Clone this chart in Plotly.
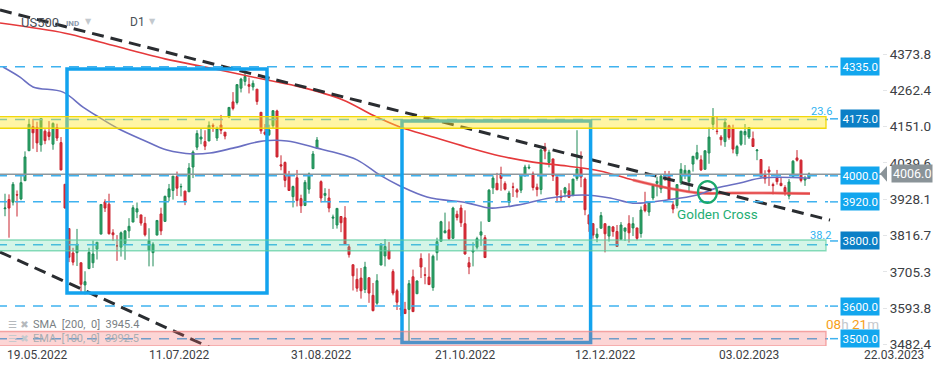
import plotly.graph_objects as go

# ---------------- DATA (US500 daily, 19.05.2022 - 09.03.2023) ----------------
opens = [
    3899, 3927, 3919, 3942, 3929, 3985, 4077, 4151,  # May
    4149, 4095, 4137, 4134, 4097, 4148, 4102, 3974, 3838, 3763, 3764, 3733, 3665,
    3715, 3733, 3775, 3821, 3920, 3913, 3825, 3785,  # Jun
    3781, 3792, 3831, 3858, 3889, 3880, 3854, 3771, 3764, 3818, 3883, 3860, 3935,
    3955, 3998, 3966, 3953, 3951, 4027, 4088,  # Jul
    4113, 4105, 4107, 4155, 4116, 4156, 4134, 4181, 4227, 4225, 4269, 4290, 4280,
    4273, 4266, 4195, 4134, 4126, 4154, 4199, 4034, 4041, 4000,  # Aug
    3936, 3994, 3930, 3909, 3959, 4022, 4084, 3982, 3940, 3932, 3870, 3849, 3875,
    3871, 3782, 3727, 3682, 3686, 3651, 3687, 3633,  # Sep
    3609, 3726, 3754, 3771, 3706, 3647, 3594, 3590, 3590, 3690, 3638, 3746, 3696,
    3689, 3657, 3764, 3799, 3825, 3834, 3808, 3882,  # Oct
    3901, 3853, 3733, 3766, 3781, 3818, 3810, 3860, 3963, 3977, 4007, 3976, 3919,
    3966, 3957, 3956, 4000, 4024, 4006, 3965, 3958,  # Nov
    4087, 4041, 4052, 3996, 3937, 3947, 3954, 3940, 3992, 4022, 3990, 3880, 3853,
    3811, 3839, 3853, 3815, 3843, 3829, 3805, 3830,  # Dec
    3853, 3840, 3840, 3823, 3911, 3889, 3932, 3977, 3960, 3999, 4003, 3911, 3909,
    3979, 4001, 3982, 4036, 4053, 4049, 4020,  # Jan
    4070, 4158, 4137, 4119, 4105, 4154, 4144, 4068, 4097, 4126, 4119, 4114, 4077,
    4050, 4002, 4018, 3973, 3993, 3977,  # Feb
    3964, 3938, 3998, 4055, 4048, 3987, 3992,  # Mar
]
highs = [
    3945, 3943, 3981, 3955, 3999, 4075, 4175, 4175,
    4166, 4177, 4143, 4168, 4164, 4160, 4119, 3974, 3838, 3779, 3837, 3733, 3707,
    3779, 3801, 3796, 3913, 3928, 3945, 3836, 3818,
    3829, 3832, 3870, 3910, 3918, 3880, 3874, 3839, 3796, 3863, 3902, 3939, 3975,
    3999, 4013, 3976, 3954, 4039, 4078, 4140,
    4144, 4140, 4167, 4161, 4151, 4187, 4134, 4211, 4257, 4280, 4301, 4325, 4302,
    4293, 4266, 4195, 4159, 4157, 4200, 4203, 4063, 4044, 4015,
    3970, 4018, 3942, 3987, 4010, 4076, 4119, 3986, 3962, 3960, 3881, 3900, 3876,
    3907, 3790, 3727, 3716, 3717, 3736, 3688, 3671,
    3698, 3791, 3806, 3797, 3713, 3653, 3640, 3613, 3680, 3712, 3679, 3762, 3719,
    3762, 3758, 3810, 3862, 3887, 3860, 3905, 3893,
    3911, 3894, 3751, 3796, 3813, 3860, 3818, 3959, 4001, 4009, 4028, 3983, 3954,
    3979, 3962, 4004, 4034, 4035, 4013, 3976, 4080,
    4101, 4080, 4052, 4001, 3956, 3966, 3977, 3990, 4140, 4075, 3995, 3880, 3855,
    3839, 3889, 3853, 3845, 3846, 3849, 3858, 3839,
    3879, 3873, 3840, 3906, 3951, 3920, 3970, 3997, 4003, 4015, 4015, 3923, 3973,
    4039, 4033, 4019, 4060, 4095, 4063, 4077,
    4148, 4208, 4183, 4125, 4176, 4157, 4157, 4095, 4138, 4159, 4148, 4136, 4082,
    4050, 4017, 4029, 3979, 4018, 3997,
    3971, 3990, 4048, 4079, 4050, 4000, 4010,
]
lows = [
    3876, 3810, 3909, 3875, 3925, 3984, 4077, 4083,
    4073, 4074, 4097, 4109, 4080, 4107, 4017, 3900, 3735, 3725, 3723, 3639, 3636,
    3715, 3717, 3743, 3821, 3889, 3820, 3800, 3739,
    3752, 3742, 3809, 3858, 3870, 3847, 3814, 3722, 3722, 3818, 3818, 3860, 3922,
    3927, 3938, 3937, 3910, 3951, 3993, 4079,
    4097, 4079, 4107, 4135, 4107, 4128, 4112, 4177, 4201, 4219, 4256, 4277, 4253,
    4262, 4218, 4129, 4124, 4122, 4147, 4057, 4017, 3965, 3954,
    3903, 3906, 3886, 3907, 3945, 4022, 4083, 3918, 3920, 3888, 3837, 3838, 3827,
    3789, 3749, 3648, 3644, 3623, 3640, 3610, 3584,
    3604, 3726, 3722, 3743, 3633, 3588, 3569, 3577, 3492, 3584, 3638, 3686, 3667,
    3665, 3647, 3740, 3799, 3824, 3803, 3808, 3863,
    3843, 3758, 3698, 3722, 3774, 3785, 3749, 3860, 3944, 3957, 3954, 3955, 3907,
    3935, 3933, 3947, 3998, 4020, 3955, 3937, 3943,
    4051, 4026, 3984, 3918, 3922, 3934, 3933, 3937, 3985, 3965, 3879, 3828, 3807,
    3796, 3839, 3765, 3798, 3813, 3783, 3805, 3800,
    3795, 3815, 3802, 3810, 3888, 3877, 3925, 3937, 3947, 3984, 3927, 3885, 3900,
    3972, 3990, 3950, 4013, 4048, 4015, 4020,
    4037, 4141, 4127, 4093, 4089, 4111, 4069, 4060, 4092, 4095, 4113, 4089, 4048,
    3995, 3976, 3969, 3943, 3973, 3968,
    3939, 3928, 3996, 4044, 3980, 3969, 3990,
]
closes = [
    3901, 3901, 3974, 3941, 3979, 4058, 4158, 4132,
    4101, 4176, 4108, 4121, 4161, 4116, 4018, 3901, 3750, 3735, 3790, 3667, 3675,
    3765, 3760, 3796, 3912, 3901, 3822, 3819, 3785,
    3825, 3831, 3845, 3902, 3899, 3855, 3819, 3801, 3790, 3863, 3831, 3937, 3960,
    3999, 3962, 3967, 3921, 4024, 4073, 4130,
    4119, 4091, 4155, 4152, 4145, 4140, 4122, 4210, 4207, 4280, 4297, 4305, 4275,
    4284, 4228, 4138, 4128, 4141, 4200, 4058, 4030, 3986, 3955,
    3967, 3924, 3908, 3980, 4006, 4067, 4110, 3932, 3946, 3901, 3873, 3900, 3856,
    3790, 3758, 3693, 3655, 3647, 3720, 3640, 3586,
    3678, 3791, 3783, 3745, 3640, 3612, 3589, 3577, 3669, 3583, 3677, 3720, 3695,
    3666, 3753, 3798, 3859, 3831, 3807, 3901, 3872,
    3856, 3760, 3720, 3771, 3807, 3828, 3749, 3956, 3993, 3957, 3992, 3959, 3947,
    3965, 3950, 4003, 4027, 4026, 3964, 3958, 4080,
    4076, 4072, 3999, 3941, 3933, 3963, 3934, 3990, 4021, 3996, 3896, 3852, 3818,
    3821, 3878, 3822, 3845, 3829, 3783, 3849, 3840,
    3825, 3853, 3808, 3895, 3893, 3919, 3970, 3983, 3999, 3991, 3928, 3898, 3973,
    4020, 4017, 4016, 4060, 4071, 4018, 4077,
    4119, 4180, 4136, 4111, 4164, 4118, 4082, 4090, 4137, 4136, 4148, 4090, 4079,
    3997, 3991, 4012, 3970, 3982, 3970,
    3951, 3981, 4045, 4048, 3986, 3992, 4006,
]

# Moving averages (candle index, value)
sma200_idx = [-1.25, 15, 23.75, 40, 51.25, 65.5, 73.75, 84.5, 92, 98.75, 107, 115.5,
              123.75, 132, 140.5, 148.75, 157, 165.5, 173.75, 182, 192, 201.25]
sma200_val = [4469, 4438, 4411, 4359, 4331, 4294, 4273, 4233, 4186, 4150, 4119, 4088,
              4061, 4042, 4030, 4015, 3987, 3963, 3947, 3947, 3947, 3945.4]
ema100_idx = [-0.5, 3.75, 7, 14.5, 19.5, 23.75, 28, 34.5, 40.5, 47, 51.25, 57, 64.5,
              70.5, 78, 82, 88, 93.75, 98.75, 105.5, 115.5, 121.25, 128, 136.25,
              144.5, 151.25, 157, 165.5, 173, 178, 183.75, 189.5, 201.25]
ema100_val = [4334, 4303, 4273, 4257, 4211, 4178, 4147, 4110, 4079, 4067, 4070, 4085,
              4107, 4107, 4085, 4073, 4049, 4002, 3969, 3935, 3917, 3901, 3910, 3932,
              3941, 3932, 3916, 3926, 3941, 3963, 3978, 3994, 3992.5]

# Trend lines (index, price)
trend_upper_idx = [-1.25, 206.25]
trend_upper_val = [4509, 3864]
trend_lower_idx = [-1.25, 60]
trend_lower_val = [3766, 3424]

# Levels
level_lines = [4335, 4000, 3920, 3600]
tag_levels = [4335.0, 4175.0, 4000.0, 3920.0, 3800.0, 3600.0, 3500.0]
dark_tags = [4175.0, 3800.0]
current_price = 4006.0

yellow_zone = (4146, 4182, 4173)   # low, high, fib line
green_zone = (3770, 3803, 3788)
red_zone = (3478, 3522, 3500)

box1 = (15.5, 65.5, 3640, 4328)
box2 = (99.25, 146.4, 3488, 4168)
cross_circle = (173.25, 178, 3917, 3984)

y_ticks = [4373.8, 4262.4, 4151.0, 4039.6, 3928.1, 3816.7, 3705.3, 3593.8, 3482.4]
date_labels = ["19.05.2022", "11.07.2022", "31.08.2022", "21.10.2022",
               "12.12.2022", "03.02.2023", "22.03.2023"]
date_label_idx = [0, 35.5, 71, 107, 142, 178, 214.25]

sma_value = 3945.4
ema_value = 3992.5

# ---------------- FIGURE ----------------
FONT = "Roboto"
W, H = 949, 370
ML, MR, MT, MB = 0, 67, 0, 24
PW = W - ML - MR
PH = H - MT - MB


def px(xp):
    return xp / PW


def py(yp):
    return 1 - yp / PH


n = len(closes)
xs = list(range(n))

fig = go.Figure()

fig.add_trace(go.Candlestick(
    x=xs, open=opens, high=highs, low=lows, close=closes,
    increasing=dict(line=dict(color="#1f8a56", width=1), fillcolor="#2ea86b"),
    decreasing=dict(line=dict(color="#c8242f", width=1), fillcolor="#e2303c"),
    whiskerwidth=0, showlegend=False, hoverinfo="skip"))

fig.add_trace(go.Scatter(x=sma200_idx, y=sma200_val, mode="lines",
                         line=dict(color="#e5393b", width=1.6, shape="spline"),
                         showlegend=False, hoverinfo="skip"))
# the recent part of the SMA is drawn heavier in the reference
recent = [i for i, v in enumerate(sma200_idx) if v >= 153]
fig.add_trace(go.Scatter(x=[sma200_idx[i] for i in recent], y=[sma200_val[i] for i in recent],
                         mode="lines", line=dict(color="rgba(229,80,80,0.65)", width=3, shape="spline"),
                         showlegend=False, hoverinfo="skip"))
fig.add_trace(go.Scatter(x=ema100_idx, y=ema100_val, mode="lines",
                         line=dict(color="#6a6fc2", width=1.6, shape="spline"),
                         showlegend=False, hoverinfo="skip"))
for tx, ty in ((trend_upper_idx, trend_upper_val), (trend_lower_idx, trend_lower_val)):
    fig.add_trace(go.Scatter(x=tx, y=ty, mode="lines",
                             line=dict(color="#2a2d31", width=3, dash="12px,7px"),
                             showlegend=False, hoverinfo="skip"))

shapes = []
LINE_BLUE = "#3fb2ef"
X_END = 205.75
for lv in level_lines:
    shapes.append(dict(type="line", xref="x", yref="y", x0=-2, x1=X_END, y0=lv, y1=lv,
                       line=dict(color=LINE_BLUE, width=1.5, dash="10px,8px"), layer="above"))
for zone in (yellow_zone, green_zone, red_zone):
    shapes.append(dict(type="line", xref="x", yref="y", x0=-2, x1=X_END, y0=zone[2], y1=zone[2],
                       line=dict(color=LINE_BLUE, width=1.5, dash="10px,8px"), layer="above"))
for lv in tag_levels:
    shapes.append(dict(type="line", xref="paper", yref="y", x0=px(830), x1=px(838), y0=lv, y1=lv,
                       line=dict(color=LINE_BLUE, width=1.5), layer="above"))
shapes.append(dict(type="line", xref="paper", yref="y", x0=0, x1=px(882), y0=current_price - 1.5,
                   y1=current_price - 1.5, line=dict(color="#8e979c", width=1.5), layer="above"))
for b in (box1, box2):
    shapes.append(dict(type="rect", xref="x", yref="y", x0=b[0], x1=b[1], y0=b[2], y1=b[3],
                       line=dict(color="#13a3ee", width=3.5), fillcolor="rgba(0,0,0,0)", layer="above"))
shapes.append(dict(type="circle", xref="x", yref="y", x0=cross_circle[0], x1=cross_circle[1],
                   y0=cross_circle[2], y1=cross_circle[3],
                   line=dict(color="#1aa86c", width=2.2), layer="above"))
for zone, fill, border in ((yellow_zone, "rgba(255,232,40,0.42)", "rgba(240,214,0,0.95)"),
                           (green_zone, "rgba(100,220,170,0.28)", "rgba(90,205,160,0.7)"),
                           (red_zone, "rgba(245,100,100,0.27)", "rgba(240,130,130,0.7)")):
    shapes.append(dict(type="rect", xref="x", yref="y", x0=-2, x1=205.25, y0=zone[0], y1=zone[1],
                       fillcolor=fill, line=dict(color=border, width=1.3), layer="above"))
shapes.append(dict(type="path", xref="paper", yref="y",
                   path=f"M {px(887)},{current_price + 24} L {px(880)},{current_price} "
                        f"L {px(887)},{current_price - 24} Z",
                   fillcolor="#8a9398", line=dict(width=0), layer="above"))

ann = []


def text(x, y, s, size, color, family=FONT, xanchor="center", yanchor="middle",
         xref="paper", yref="paper", **kw):
    d = dict(xref=xref, yref=yref, x=x, y=y, text=s, showarrow=False,
             xanchor=xanchor, yanchor=yanchor,
             font=dict(family=family, size=size, color=color))
    d.update(kw)
    ann.append(d)


for lv in tag_levels:
    text(px(859.5), lv, f"{lv:.1f}", 11.5, "white", yref="y",
         bgcolor="#0b7fc6" if lv in dark_tags else "#12a6ee", borderpad=1.5)
text(px(911.5), current_price, f"{current_price:.1f}", 12.5, "white", yref="y",
     bgcolor="#8a9398", borderpad=1)
text(px(821), 4199, "23.6", 11, "#2fb3f0", yref="y")
text(px(820), 3817, "38.2", 11, "#2fb3f0", yref="y")
text(178, 3883, "Golden Cross", 13.5, "#1fae74", xref="x", yref="y")
# header
text(px(19), py(22), "US500", 13, "#4a5057", xanchor="left")
text(px(64), py(23), "<b>IND</b>", 8, "#8c9aac", xanchor="left")
text(px(128), py(22), "D1", 12, "#4a5057", xanchor="left")
for tri_x in (88, 152):
    text(px(tri_x), py(21), "▼", 8, "#c3c9ce", family="DejaVu Sans")
# indicator legend
text(px(6), py(324), "☰ ✖", 10, "#b5b9bd", family="DejaVu Sans", xanchor="left")
text(px(31), py(324), f"SMA  [200,  0]  {sma_value}", 11, "#7a7f84", xanchor="left")
text(px(6), py(338), "☰ ✖", 10, "#c5c9cd", family="DejaVu Sans", xanchor="left")
text(px(31), py(338), f"EMA  [100,  0]  {ema_value}", 11, "#a9adb1", xanchor="left")
# timer
text(px(852), py(324),
     "<span style='color:#f7a11a'>08</span><span style='color:#c4c8cc'>h</span> "
     "<span style='color:#f7a11a'>21</span><span style='color:#c4c8cc'>m</span>",
     13.5, "#f7a11a")
# date labels
for lab, idx in zip(date_labels, date_label_idx):
    text(idx, 0, lab, 12, "#3c4044", xref="x", xanchor="left", yanchor="top", yshift=0)

fig.update_layout(
    width=W, height=H, margin=dict(l=ML, r=MR, t=MT, b=MB),
    paper_bgcolor="white", plot_bgcolor="white",
    shapes=shapes, annotations=ann, showlegend=False,
    xaxis=dict(range=[-1.25, (PW - 5) / 4.0], showgrid=False, zeroline=False,
               showticklabels=False, ticks="", rangeslider=dict(visible=False), fixedrange=True),
    yaxis=dict(range=[3477.5, 4539.8], side="right", showgrid=False, zeroline=False,
               tickvals=y_ticks, ticktext=[f"{v:.1f}" for v in y_ticks],
               ticks="outside", ticklen=4, tickcolor="#e3e5e7",
               tickfont=dict(family=FONT, size=13.5, color="#3c4044"), fixedrange=True),
)

fig.write_html("out.html")
